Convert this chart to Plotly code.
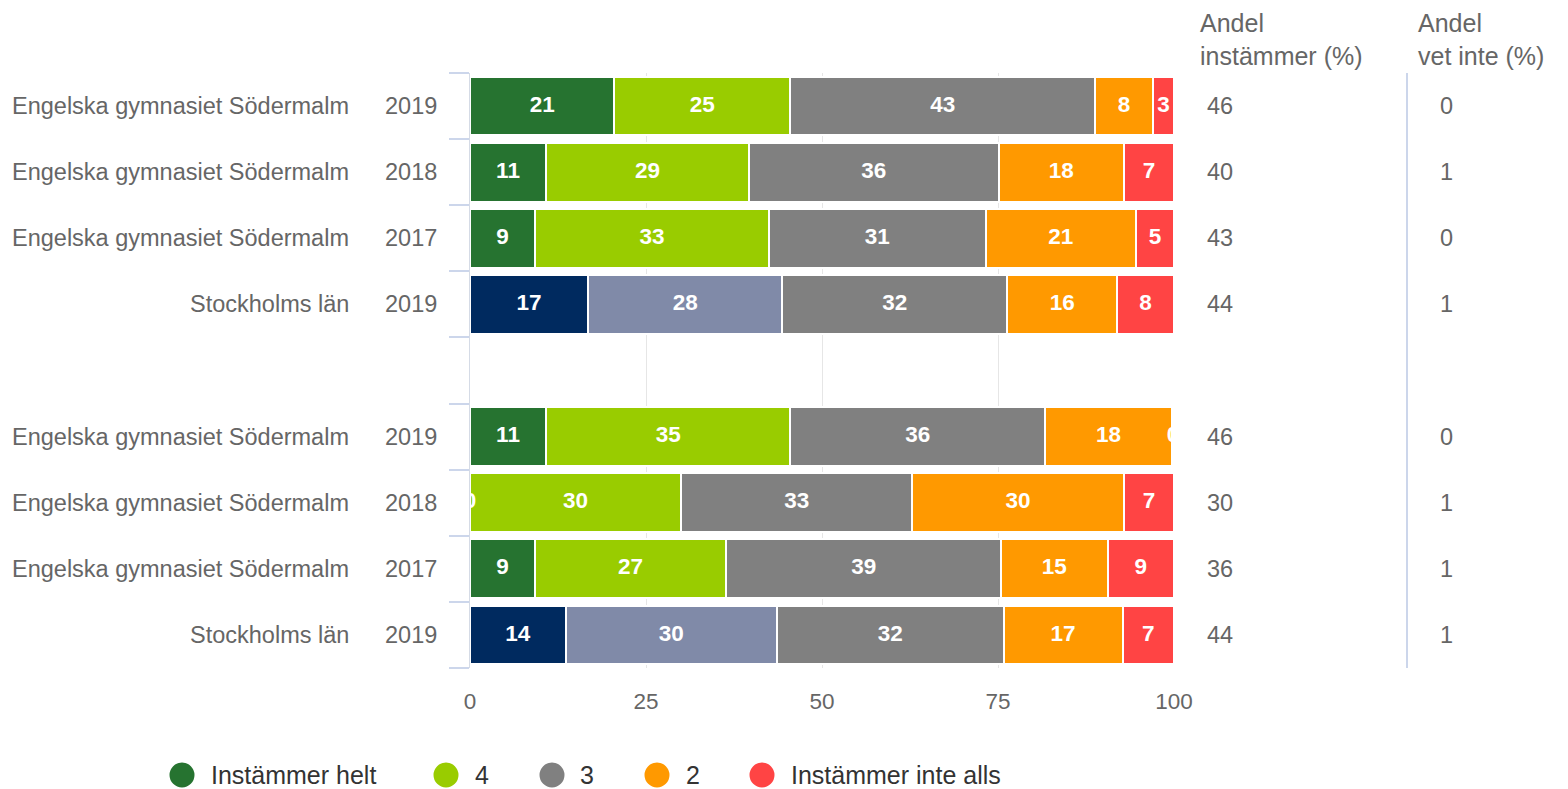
import plotly.graph_objects as go

# ---------------- data ----------------
schools = ["Engelska gymnasiet Södermalm", "Engelska gymnasiet Södermalm",
           "Engelska gymnasiet Södermalm", "Stockholms län",
           "Engelska gymnasiet Södermalm", "Engelska gymnasiet Södermalm",
           "Engelska gymnasiet Södermalm", "Stockholms län"]
years = ["2019", "2018", "2017", "2019", "2019", "2018", "2017", "2019"]
row_pos = [0, 1, 2, 3, 5, 6, 7, 8]  # slot 4 is the empty gap between groups

series_names = ["Instämmer helt", "4", "3", "2", "Instämmer inte alls"]
s_helt = [20.5, 10.8, 9.2, 16.8, 10.8, 0.0, 9.2, 13.6]
s_4 = [25.0, 28.8, 33.2, 27.6, 34.7, 30.0, 27.1, 30.0]
s_3 = [43.3, 35.5, 30.7, 32.0, 36.2, 32.8, 38.9, 32.2]
s_2 = [8.2, 17.8, 21.3, 15.6, 18.0, 30.1, 15.1, 16.9]
s_inte = [3.0, 7.1, 5.4, 8.1, 0.3, 7.1, 9.4, 7.3]

andel_instammer = [46, 40, 43, 44, 46, 30, 36, 44]
andel_vet_inte = [0, 1, 0, 1, 0, 1, 1, 1]

x_ticks = [0, 25, 50, 75, 100]
col_headers = ["Andel<br>instämmer (%)", "Andel<br>vet inte (%)"]

# ---------------- styles ----------------
school_colors = ["#267330", "#99cc00", "#808080", "#ff9900", "#ff4444"]
region_colors = ["#002a5f", "#808aa8", "#808080", "#ff9900", "#ff4444"]
region_name = "Stockholms län"
FONT = "Liberation Sans, Arial, Helvetica, sans-serif"

# the page body has an 8px margin, so the figure starts at (8, 8)
OFF = 8
W, H = 1568 - OFF, 789 - OFF


def px_x(p):
    return (p - OFF) / W


def px_y(p):
    return 1 - (p - OFF) / H


series = [s_helt, s_4, s_3, s_2, s_inte]
totals = [sum(s[i] for s in series) for i in range(len(row_pos))]

fig = go.Figure()

cum = [0.0] * len(row_pos)
for k, (name, vals) in enumerate(zip(series_names, series)):
    colors = [region_colors[k] if sc == region_name else school_colors[k] for sc in schools]
    fig.add_trace(go.Bar(
        x=vals, y=row_pos, orientation="h", name=name,
        marker=dict(color=colors, line=dict(color="white", width=2)),
        width=0.89, showlegend=False, hoverinfo="x+name",
    ))
    mids = [(cum[i] + vals[i] / 2) / totals[i] * 100 for i in range(len(row_pos))]
    fig.add_trace(go.Scatter(
        x=mids, y=row_pos, mode="text",
        text=["<b>%d</b>" % int(v + 0.5) for v in vals],
        textposition="middle center",
        textfont=dict(family=FONT, size=22.5, color="white"),
        cliponaxis=True, showlegend=False, hoverinfo="skip",
    ))
    cum = [cum[i] + vals[i] for i in range(len(row_pos))]

annotations = []
for pos, sc, yr, a1, a2 in zip(row_pos, schools, years, andel_instammer, andel_vet_inte):
    annotations.append(dict(x=px_x(351), xref="paper", y=pos, yref="y", xanchor="right",
                            text=sc, showarrow=False, font=dict(family=FONT, size=23.5, color="#666666")))
    annotations.append(dict(x=px_x(439), xref="paper", y=pos, yref="y", xanchor="right",
                            text=yr, showarrow=False, font=dict(family=FONT, size=23.5, color="#666666")))
    annotations.append(dict(x=px_x(1205), xref="paper", y=pos, yref="y", xanchor="left",
                            text=str(a1), showarrow=False, font=dict(family=FONT, size=23.5, color="#666666")))
    annotations.append(dict(x=px_x(1446), xref="paper", y=pos, yref="y", xanchor="center",
                            text=str(a2), showarrow=False, font=dict(family=FONT, size=23.5, color="#666666")))

for hx, ht in zip([1199, 1417], col_headers):
    annotations.append(dict(x=px_x(hx), xref="paper", y=1, yref="paper",
                            xanchor="left", yanchor="top", align="left", text=ht, showarrow=False,
                            borderpad=0, font=dict(family=FONT, size=25, color="#666666")))

# custom legend (circle symbols)
legend_circle_x = [182, 446, 552, 657, 762]
legend_text_x = [209, 473, 578, 684, 789]
legend_y = 775
shapes = []
for cx, tx, name, col in zip(legend_circle_x, legend_text_x, series_names, school_colors):
    shapes.append(dict(type="circle", xref="paper", yref="paper", xsizemode="pixel", ysizemode="pixel",
                       xanchor=px_x(cx), yanchor=px_y(legend_y), x0=-12.5, x1=12.5, y0=-12.5, y1=12.5,
                       fillcolor=col, line=dict(width=0)))
    annotations.append(dict(x=px_x(tx), xref="paper", y=px_y(legend_y), yref="paper",
                            xanchor="left", yanchor="middle", text=name, showarrow=False,
                            font=dict(family=FONT, size=25, color="#333333")))

# separator line for the right-hand columns
shapes.append(dict(type="line", xref="paper", yref="paper", x0=px_x(1407), x1=px_x(1407),
                   y0=px_y(668), y1=px_y(73), line=dict(color="#ccd6eb", width=2)))

fig.update_layout(
    width=W, height=H, autosize=False,
    margin=dict(l=0, r=0, t=0, b=0),
    barmode="stack", barnorm="percent",
    plot_bgcolor="white", paper_bgcolor="white",
    font=dict(family=FONT, color="#666666"),
    xaxis=dict(domain=[px_x(470), px_x(1174)], range=[0, 100], tickvals=x_ticks,
               showgrid=True, gridcolor="#e6e6e6", gridwidth=1, zeroline=False, showline=False,
               ticks="outside", ticklen=0, ticklabelstandoff=13, automargin=False,
               tickfont=dict(family=FONT, size=22.5, color="#666666"), fixedrange=True),
    yaxis=dict(domain=[px_y(668), px_y(73)], range=[8.5, -0.5],
               tickvals=[k - 0.5 for k in range(10)], showticklabels=False,
               ticks="outside", ticklen=20, tickwidth=2, tickcolor="#ccd6eb",
               showgrid=False, zeroline=False, showline=True, linecolor="#d5dbe6", linewidth=1,
               automargin=False, fixedrange=True),
    annotations=annotations, shapes=shapes,
)

fig.write_html("out.html")
